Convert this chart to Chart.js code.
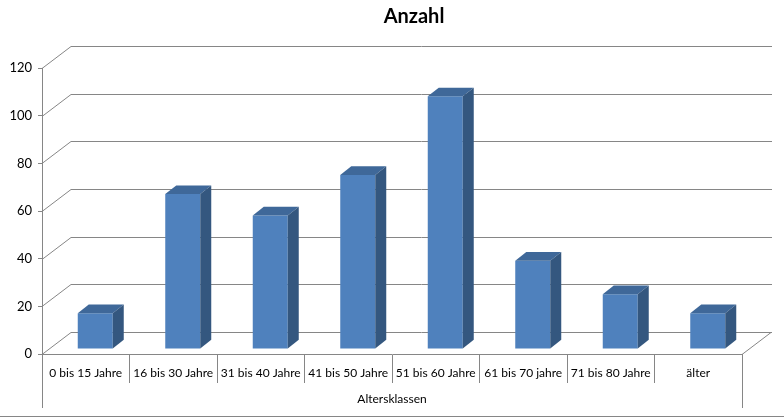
<!DOCTYPE html>
<html>
<head>
<meta charset="utf-8">
<script src="https://cdn.jsdelivr.net/npm/chart.js@4"></script>
<style>
    html, body { margin: 0; padding: 0; background: #fff; }
    #wrap { width: 784px; height: 417px; }
</style>
</head>
<body>
<div id="wrap"><canvas id="chart"></canvas></div>
<script>
const categories = ['0 bis 15 Jahre', '16 bis 30 Jahre', '31 bis 40 Jahre', '41 bis 50 Jahre',
                    '51 bis 60 Jahre', '61 bis 70 jahre', '71 bis 80 Jahre', 'älter'];
const counts = [15, 65, 56, 73, 106, 37, 23, 15];
const yTicks = [0, 20, 40, 60, 80, 100, 120];
const chartTitle = 'Anzahl';
const axisTitle = 'Altersklassen';

const GRID = '#868686';
const WALL_DX = 29, WALL_DY = -22;     // depth of the back wall
const SHIFT_X = 9.5, SHIFT_Y = -5;     // bars stand a bit behind the front edge
const BAR_DX = 11, BAR_DY = -8.7;      // depth of one bar

// fake 3d: walls, floor and the top/side faces of the bars
const box3d = {
    id: 'box3d',
    beforeDatasetsDraw(chart) {
        const { ctx, chartArea: a, scales: { y } } = chart;
        ctx.save();
        ctx.strokeStyle = GRID;
        ctx.lineWidth = 1;
        ctx.beginPath();
        yTicks.forEach(v => {
            const py = Math.round(y.getPixelForValue(v)) + 0.5;
            ctx.moveTo(a.left, py);
            ctx.lineTo(a.left + WALL_DX, py + WALL_DY);
            ctx.lineTo(a.right + WALL_DX + 1, py + WALL_DY);
        });
        const by = Math.round(a.bottom) + 0.5;
        ctx.moveTo(a.right, by);
        ctx.lineTo(a.right + WALL_DX, by + WALL_DY);
        ctx.stroke();
        ctx.restore();

        ctx.save();
        ctx.translate(SHIFT_X, SHIFT_Y);
    },
    afterDatasetsDraw(chart) {
        const { ctx } = chart;
        chart.getDatasetMeta(0).data.forEach(bar => {
            const { x, y, width, base } = bar.getProps(['x', 'y', 'width', 'base'], true);
            const l = x - width / 2, r = x + width / 2;
            ctx.fillStyle = '#3f6899';
            ctx.beginPath();
            ctx.moveTo(l, y);
            ctx.lineTo(r, y);
            ctx.lineTo(r + BAR_DX, y + BAR_DY);
            ctx.lineTo(l + BAR_DX, y + BAR_DY);
            ctx.closePath();
            ctx.fill();
            ctx.fillStyle = '#34577f';
            ctx.beginPath();
            ctx.moveTo(r, y);
            ctx.lineTo(r + BAR_DX, y + BAR_DY);
            ctx.lineTo(r + BAR_DX, base + BAR_DY);
            ctx.lineTo(r, base);
            ctx.closePath();
            ctx.fill();
        });
        ctx.restore();
    },
    afterDraw(chart) {
        const { ctx, chartArea: a } = chart;
        ctx.save();
        ctx.strokeStyle = GRID;
        ctx.lineWidth = 1;
        ctx.beginPath();
        ctx.moveTo(Math.round(a.left) + 0.5, a.bottom);
        ctx.lineTo(Math.round(a.left) + 0.5, 408);
        ctx.moveTo(Math.round(a.right) + 0.5, a.bottom);
        ctx.lineTo(Math.round(a.right) + 0.5, 408);
        ctx.moveTo(0, 416.5);
        ctx.lineTo(784, 416.5);
        ctx.stroke();

        ctx.fillStyle = '#000';
        ctx.font = 'bold 20px Lato';
        ctx.textAlign = 'center';
        ctx.textBaseline = 'middle';
        ctx.fillText(chartTitle, 414, 17);
        ctx.restore();
    }
};

new Chart(document.getElementById('chart'), {
    type: 'bar',
    data: {
        labels: categories,
        datasets: [{
            label: chartTitle,
            data: counts,
            backgroundColor: '#4f81bd',
            borderWidth: 0,
            categoryPercentage: 1,
            barPercentage: 0.4
        }]
    },
    options: {
        responsive: true,
        maintainAspectRatio: false,
        animation: false,
        layout: { padding: { top: 68, right: 42, left: 0, bottom: 0 } },
        plugins: {
            legend: { display: false },
            title: { display: false },
            tooltip: { enabled: false }
        },
        scales: {
            x: {
                offset: true,
                afterFit(scale) { scale.height = 63; },
                border: { display: true, color: GRID },
                grid: { offset: true, drawOnChartArea: false, color: GRID, tickLength: 29 },
                ticks: {
                    autoSkip: false, maxRotation: 0, padding: -17,
                    color: '#000', font: { family: 'Lato', size: 12 }
                },
                title: {
                    display: true, text: axisTitle, color: '#000',
                    font: { family: 'Lato', size: 12 },
                    padding: { top: 0, bottom: 11 }
                }
            },
            y: {
                min: 0,
                max: 120,
                afterFit(scale) { scale.width = 42; },
                afterBuildTicks(scale) { scale.ticks = yTicks.map(v => ({ value: v })); },
                border: { display: true, color: GRID },
                grid: { drawOnChartArea: false, color: GRID, tickLength: 4 },
                ticks: { padding: 6, color: '#000', font: { family: 'Lato', size: 13 } }
            }
        }
    },
    plugins: [box3d]
});
</script>
</body>
</html>
